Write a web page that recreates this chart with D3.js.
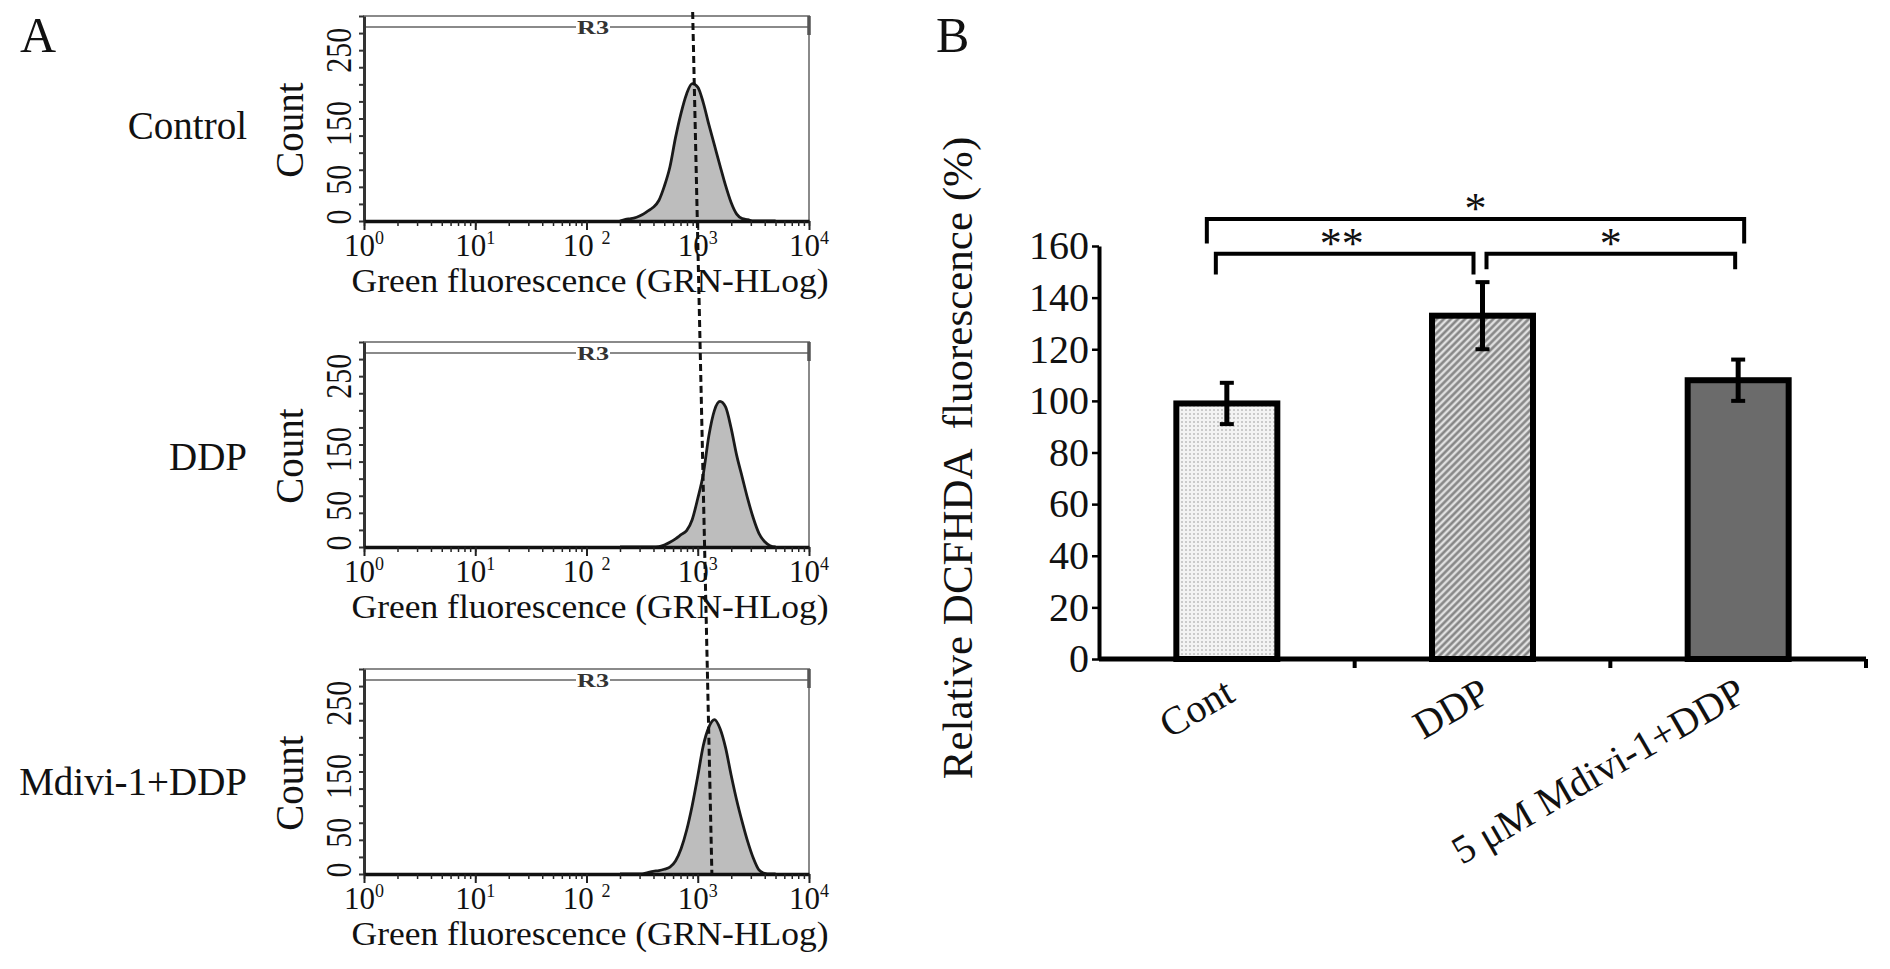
<!DOCTYPE html>
<html>
<head>
<meta charset="utf-8">
<script src="https://cdn.jsdelivr.net/npm/d3@7"></script>
<style>
  body { margin: 0; background: #fff; }
  text { font-family: "Liberation Serif", "Times New Roman", serif; fill: #111; }
</style>
</head>
<body>
<svg id="fig" width="1890" height="969"></svg>
<script>
// ---------- Panel A: flow cytometry histograms ----------
const groups = ["Control", "DDP", "Mdivi-1+DDP"];
// bin positions on the GRN-HLog axis
const intensity = [200, 224, 251, 282, 316, 355, 398, 447, 501, 562, 631, 708, 794, 891,
  1000, 1122, 1259, 1413, 1585, 1778, 1995, 2239, 2512, 2818, 3162, 3548, 3981, 4467, 5012];
const countControl = [0, 2.5, 3.3, 5.5, 9, 14.5, 20, 30, 51, 79, 122, 158, 186, 201,
  196, 173, 141, 111, 81, 52, 27, 10, 3.5, 2, 0, 0, 0, 0, 0];
const countDDP = [0, 0, 0, 0, 0, 0, 0, 0.5, 3, 7, 12, 18, 24, 40,
  71, 107, 163, 200, 213, 205, 174, 134, 102, 70, 42, 20, 8, 2, 0];
const countMdivi = [0, 0, 0, 0, 0, 2, 4, 5, 7, 10, 19, 37, 64, 100,
  143, 188, 215, 226, 213, 185, 145, 108, 76, 47, 23, 6, 1, 0, 0];
const countTicks = [0, 25, 50, 75, 100, 125, 150, 175, 200, 225, 250, 275, 300];
const countLabels = [0, 50, 150, 250];
const decadeTicks = [1, 10, 100, 1000, 10000];
const decadeLabels = [["10", "0"], ["10", "1"], ["10 ", "2"], ["10", "3"], ["10", "4"]];
// dashed reference line: intensity at top of first panel, at base of last panel
const markerLine = [900, 1340];

// ---------- Panel B: bar chart ----------
const barCats = ["Cont", "DDP", "5 μM Mdivi-1+DDP"];
const barMeans = [99, 133, 108];
const barErrors = [8, 13, 8];
const yTicks = [0, 20, 40, 60, 80, 100, 120, 140, 160];
const sigLabels = ["*", "**", "*"];

const svg = d3.select("#fig");
const defs = svg.append("defs");

// fills for the bars
const dots = defs.append("pattern").attr("id", "dots")
  .attr("width", 4).attr("height", 4).attr("patternUnits", "userSpaceOnUse");
dots.append("rect").attr("width", 4).attr("height", 4).attr("fill", "#f3f3f3");
dots.append("circle").attr("cx", 2).attr("cy", 2).attr("r", 1).attr("fill", "#bdbdbd");

const hatch = defs.append("pattern").attr("id", "hatch")
  .attr("width", 5).attr("height", 5).attr("patternUnits", "userSpaceOnUse")
  .attr("patternTransform", "rotate(45)");
hatch.append("rect").attr("width", 5).attr("height", 5).attr("fill", "#e0e0e0");
hatch.append("line").attr("x1", 1.5).attr("x2", 1.5).attr("y1", 0).attr("y2", 5)
  .attr("stroke", "#808080").attr("stroke-width", 2.4);

const barFills = ["url(#dots)", "url(#hatch)", "#6b6b6b"];

// panel letters
svg.append("text").attr("x", 20).attr("y", 52).style("font-size", "50px").text("A");
svg.append("text").attr("x", 936).attr("y", 52).style("font-size", "50px").text("B");

// ---------- draw panel A ----------
const hx = d3.scaleLog().domain([1, 1e4]).range([364, 809]);
const panelTop = [16, 342, 669];
const panelH = 205;
const hy = d3.scaleLinear().domain([0, 300]).range([panelH, 0]);
const histSeries = [countControl, countDDP, countMdivi];
// small nudges of the rotated count labels, as in the instrument print-out
const countLabelShift = [-4, -7, 5, 0];

groups.forEach((name, i) => {
  const g = svg.append("g").attr("transform", `translate(0,${panelTop[i]})`);
  const x0 = hx.range()[0], x1 = hx.range()[1];

  // frame and R3 gate bar
  g.append("rect")
    .attr("x", x0).attr("y", 0).attr("width", x1 - x0).attr("height", panelH)
    .attr("fill", "none").attr("stroke", "#8a8a8a").attr("stroke-width", 2);
  g.append("line").attr("x1", x0).attr("x2", x1).attr("y1", 11).attr("y2", 11)
    .attr("stroke", "#8a8a8a").attr("stroke-width", 2);
  g.append("line").attr("x1", x1).attr("x2", x1).attr("y1", 0).attr("y2", 19)
    .attr("stroke", "#555").attr("stroke-width", 3.5);
  g.append("rect").attr("x", 576).attr("y", 4).attr("width", 34).attr("height", 16).attr("fill", "#fff");
  g.append("text").attr("x", 593).attr("y", 18).attr("text-anchor", "middle")
    .style("font-size", "18px").style("font-weight", "bold").style("fill", "#333")
    .attr("textLength", 32).attr("lengthAdjust", "spacingAndGlyphs").text("R3");

  // histogram
  const pts = intensity.map((v, j) => [v, histSeries[i][j]]);
  g.append("path").datum(pts)
    .attr("d", d3.area().x(d => hx(d[0])).y0(panelH).y1(d => hy(d[1])).curve(d3.curveMonotoneX))
    .attr("fill", "#bdbdbd");
  g.append("path").datum(pts)
    .attr("d", d3.line().x(d => hx(d[0])).y(d => hy(d[1])).curve(d3.curveMonotoneX))
    .attr("fill", "none").attr("stroke", "#1a1a1a").attr("stroke-width", 2.8);

  // left axis
  const left = g.append("g").attr("transform", `translate(${x0},0)`)
    .call(d3.axisLeft(hy).tickValues(countTicks).tickSize(5).tickSizeOuter(0).tickFormat(""));
  left.select(".domain").attr("stroke", "#333").attr("stroke-width", 3);
  left.selectAll(".tick line").attr("stroke", "#333").attr("stroke-width", 2);

  // bottom axis: minor then major ticks
  const minor = g.append("g").attr("transform", `translate(0,${panelH})`)
    .call(d3.axisBottom(hx).tickValues(hx.ticks()).tickSize(5).tickSizeOuter(0).tickFormat(""));
  minor.select(".domain").attr("stroke", "#111").attr("stroke-width", 3.5);
  minor.selectAll(".tick line").attr("stroke", "#222").attr("stroke-width", 1.5);
  const major = g.append("g").attr("transform", `translate(0,${panelH})`)
    .call(d3.axisBottom(hx).tickValues(decadeTicks).tickSize(9).tickFormat(""));
  major.select(".domain").remove();
  major.selectAll(".tick line").attr("stroke", "#222").attr("stroke-width", 2);

  decadeTicks.forEach((v, k) => {
    const t = g.append("text").attr("x", hx(v)).attr("y", panelH + 35)
      .attr("text-anchor", "middle").style("font-size", "31px");
    t.append("tspan").text(decadeLabels[k][0]);
    t.append("tspan").attr("dy", -12).style("font-size", "18px").text(decadeLabels[k][1]);
  });

  g.append("text").attr("x", 590).attr("y", panelH + 71).attr("text-anchor", "middle")
    .style("font-size", "33px").attr("textLength", 477).attr("lengthAdjust", "spacingAndGlyphs")
    .text("Green fluorescence (GRN-HLog)");

  // count labels (rotated, slightly condensed)
  countLabels.forEach((v, k) => {
    g.append("text")
      .attr("transform", `translate(351,${hy(v) + countLabelShift[k]}) rotate(-90)`)
      .attr("text-anchor", "middle").style("font-size", "35px")
      .attr("textLength", 15 * String(v).length).attr("lengthAdjust", "spacingAndGlyphs")
      .text(v);
  });
  g.append("text").attr("transform", `translate(303,114) rotate(-90)`)
    .attr("text-anchor", "middle").style("font-size", "39px").text("Count");

  // group name
  g.append("text").attr("x", 247).attr("y", [123, 128, 126][i])
    .attr("text-anchor", "end").style("font-size", "39px").text(name);
});

// dashed reference line running through the three histograms
svg.append("line")
  .attr("x1", hx(markerLine[0])).attr("y1", 12)
  .attr("x2", hx(markerLine[1])).attr("y2", panelTop[2] + panelH)
  .attr("stroke", "#111").attr("stroke-width", 3).attr("stroke-dasharray", "7,4");

// ---------- draw panel B ----------
const bx = d3.scaleBand().domain(barCats).range([1099, 1866]).paddingInner(0.605).paddingOuter(0.3025);
const by = d3.scaleLinear().domain([0, 160]).range([659, 246]);
const bw = bx.bandwidth();
const cx = c => bx(c) + bw / 2;

const yAxis = svg.append("g").attr("transform", "translate(1099,0)")
  .call(d3.axisLeft(by).tickValues(yTicks).tickSize(7).tickSizeOuter(0).tickPadding(3));
yAxis.select(".domain").attr("stroke", "#000").attr("stroke-width", 4);
yAxis.selectAll(".tick line").attr("stroke", "#000").attr("stroke-width", 2.5);
yAxis.selectAll(".tick text").style("font-size", "40px")
  .style("font-family", "'Liberation Serif', serif").attr("fill", "#111");

svg.append("text")
  .attr("transform", "translate(972,458) rotate(-90)")
  .attr("text-anchor", "middle").style("font-size", "43px").style("white-space", "pre")
  .text("Relative DCFHDA  fluorescence (%)");

// bars
svg.selectAll("rect.bar").data(barCats).join("rect").attr("class", "bar")
  .attr("x", d => bx(d)).attr("y", (d, i) => by(barMeans[i]))
  .attr("width", bw).attr("height", (d, i) => by(0) - by(barMeans[i]))
  .attr("fill", (d, i) => barFills[i]).attr("stroke", "#000").attr("stroke-width", 6);

// error bars
barCats.forEach((c, i) => {
  const top = by(barMeans[i] + barErrors[i]), bot = by(barMeans[i] - barErrors[i]);
  svg.append("line").attr("x1", cx(c)).attr("x2", cx(c)).attr("y1", top).attr("y2", bot)
    .attr("stroke", "#000").attr("stroke-width", 5);
  [top, bot].forEach(y => svg.append("line")
    .attr("x1", cx(c) - 7).attr("x2", cx(c) + 7).attr("y1", y).attr("y2", y)
    .attr("stroke", "#000").attr("stroke-width", 4));
});

// x axis with ticks at band boundaries
const xEnd = bx.range()[1];
svg.append("line").attr("x1", 1099).attr("x2", xEnd).attr("y1", by(0)).attr("y2", by(0))
  .attr("stroke", "#000").attr("stroke-width", 5);
barCats.forEach(c => {
  const bx1 = cx(c) + bx.step() / 2;
  svg.append("line").attr("x1", bx1).attr("x2", bx1).attr("y1", by(0)).attr("y2", by(0) + 9)
    .attr("stroke", "#000").attr("stroke-width", 4);
});

// category labels
svg.selectAll("text.cat").data(barCats).join("text").attr("class", "cat")
  .attr("transform", d => `translate(${cx(d) + 10},700) rotate(-30)`)
  .attr("text-anchor", "end").style("font-size", "40px").text(d => d);

// significance brackets: [from, to, level, legs end, from offset, to offset]
const brackets = [
  [0, 2, 170.5, 161, -20, 6],
  [0, 1, 157, 149, -11, -9],
  [1, 2, 157, 151, 4, -3]
];
brackets.forEach((b, k) => {
  const xa = cx(barCats[b[0]]) + b[4], xb = cx(barCats[b[1]]) + b[5];
  const yl = by(b[2]), yd = by(b[3]);
  svg.append("path")
    .attr("d", `M${xa},${yd}V${yl}H${xb}V${yd}`)
    .attr("fill", "none").attr("stroke", "#000").attr("stroke-width", 4);
  svg.append("text").attr("x", (xa + xb) / 2 + (k === 1 ? -3 : 0)).attr("y", yl + 4)
    .attr("text-anchor", "middle").style("font-size", "44px").text(sigLabels[k]);
});
</script>
</body>
</html>
